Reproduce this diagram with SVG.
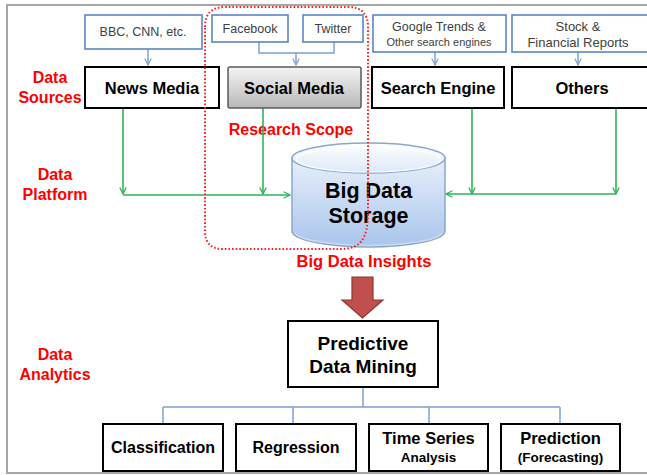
<svg xmlns="http://www.w3.org/2000/svg" width="647" height="475" viewBox="0 0 647 475">
<defs>
<style>
.sub{fill:#fff;stroke:#5b86c4;stroke-width:1.6}
.node{fill:#fff;stroke:#000;stroke-width:2}
.st{font-family:"Liberation Sans",Arial,sans-serif;font-size:12.5px;fill:#404040;text-anchor:middle}
.nt{font-family:"Liberation Sans",Arial,sans-serif;font-weight:bold;font-size:16.5px;fill:#000;text-anchor:middle}
.rt{font-family:"Liberation Sans",Arial,sans-serif;font-weight:bold;font-size:16px;fill:#ff0000;text-anchor:middle}
.g{fill:none;stroke:#2fb55a;stroke-width:1.6}
.b{fill:none;stroke:#7ea1d4;stroke-width:1.5}
</style>
<marker id="ga" viewBox="0 0 10 10" refX="9" refY="5" markerWidth="8" markerHeight="8" markerUnits="userSpaceOnUse" orient="auto">
<path d="M1,1 L9,5 L1,9" fill="none" stroke="#2fb55a" stroke-width="1.6"/>
</marker>
<marker id="ba" viewBox="0 0 10 10" refX="9" refY="5" markerWidth="8" markerHeight="8" markerUnits="userSpaceOnUse" orient="auto">
<path d="M1,1 L9,5 L1,9" fill="none" stroke="#7ea1d4" stroke-width="1.5"/>
</marker>
<linearGradient id="gray" x1="0" y1="0" x2="0" y2="1">
<stop offset="0" stop-color="#f4f4f4"/>
<stop offset="1" stop-color="#b8b8b8"/>
</linearGradient>
<linearGradient id="cyl" x1="0" y1="0" x2="0" y2="1">
<stop offset="0" stop-color="#e6effb"/>
<stop offset="1" stop-color="#a9c5ec"/>
</linearGradient>
<linearGradient id="cyltop" x1="0" y1="0" x2="0" y2="1">
<stop offset="0" stop-color="#ffffff"/>
<stop offset="1" stop-color="#dce8f8"/>
</linearGradient>
</defs>
<rect width="647" height="475" fill="#fff"/>
<rect x="7" y="5" width="660" height="468" fill="none" stroke="#a6a6a6" stroke-width="2"/>

<g id="labels">
<text class="rt" x="50" y="83">Data</text>
<text class="rt" x="50" y="103">Sources</text>
<text class="rt" x="55" y="180">Data</text>
<text class="rt" x="55" y="200">Platform</text>
<text class="rt" x="55" y="360">Data</text>
<text class="rt" x="55" y="380">Analytics</text>
<text class="rt" x="291" y="135">Research Scope</text>
<text class="rt" x="364" y="267" style="font-size:16.5px">Big Data Insights</text>
</g>

<g id="connectors">
<path class="b" d="M148,49 V65" marker-end="url(#ba)"/>
<path class="b" d="M259,42 V53 H334 V42"/>
<path class="b" d="M296,53 V65" marker-end="url(#ba)"/>
<path class="b" d="M435,52 V65" marker-end="url(#ba)"/>
<path class="b" d="M578,52 V65" marker-end="url(#ba)"/>
<path class="g" d="M123,108 V194" marker-end="url(#ga)"/>
<path class="g" d="M263,108 V194" marker-end="url(#ga)"/>
<path class="g" d="M123,195 H290" marker-end="url(#ga)"/>
<path class="g" d="M472,108 V194" marker-end="url(#ga)"/>
<path class="g" d="M616,108 V194" marker-end="url(#ga)"/>
<path class="g" d="M616,194 H446" marker-end="url(#ga)"/>
<path class="b" d="M363,387 V407 M163,407 H560 M163,407 V424 M293,407 V424 M429,407 V424 M560,407 V424"/>
</g>

<g id="bbc">
<rect class="sub" x="85" y="15" width="117" height="34"/>
<text class="st" x="143" y="36">BBC, CNN, etc.</text>
</g>
<g id="facebook">
<rect class="sub" x="212" y="15" width="76" height="27"/>
<text class="st" x="250" y="33">Facebook</text>
</g>
<g id="twitter">
<rect class="sub" x="303" y="15" width="60" height="27"/>
<text class="st" x="333" y="33">Twitter</text>
</g>
<g id="google">
<rect class="sub" x="373" y="15" width="133" height="37"/>
<text class="st" x="439" y="31">Google Trends &amp;</text>
<text class="st" x="439" y="46" style="font-size:11px">Other search engines</text>
</g>
<g id="stock">
<rect class="sub" x="512" y="15" width="140" height="37"/>
<text class="st" x="578" y="31" style="font-size:13px">Stock &amp;</text>
<text class="st" x="578" y="47" style="font-size:13px">Financial Reports</text>
</g>

<g id="news-media">
<rect class="node" x="85" y="67" width="134" height="41"/>
<text class="nt" x="152" y="94">News Media</text>
</g>
<g id="social-media">
<rect x="228" y="67" width="133" height="41" rx="2" fill="url(#gray)" stroke="#5a5a5a" stroke-width="1.5"/>
<text class="nt" x="294" y="94">Social Media</text>
</g>
<g id="search-engine">
<rect class="node" x="372" y="67" width="132" height="41"/>
<text class="nt" x="438" y="94">Search Engine</text>
</g>
<g id="others">
<rect class="node" x="512" y="67" width="140" height="41"/>
<text class="nt" x="582" y="94">Others</text>
</g>

<g id="big-data-storage">
<path d="M292,158 V231 A76.5,16 0 0 0 445,231 V158 Z" fill="url(#cyl)" stroke="#8ba6cc" stroke-width="1.5"/>
<path d="M295,233 A74,14 0 0 0 442,233" fill="none" stroke="#c9d9ef" stroke-width="1.5"/>
<ellipse cx="368.5" cy="158" rx="76.5" ry="15" fill="url(#cyltop)" stroke="#8ba6cc" stroke-width="1.5"/>
<ellipse cx="368.5" cy="159.5" rx="72" ry="12.5" fill="none" stroke="#ffffff" stroke-width="1.2"/>
<text class="nt" x="368.5" y="198" style="font-size:21.5px">Big Data</text>
<text class="nt" x="368.5" y="223" style="font-size:21.5px">Storage</text>
</g>

<g id="research-scope">
<path d="M205,27 Q205,7 225,7 H348 Q368,7 368,27 V212 C368,240 360,249 340,249 H223 Q205,249 205,231 Z" fill="none" stroke="#ff2020" stroke-width="2" stroke-dasharray="1.6 2"/>
</g>

<g id="insight-arrow">
<path d="M352,277 H373 V300 H383 L362.5,318 L342,300 H352 Z" fill="#c0504d" stroke="#8c3836" stroke-width="1.2"/>
</g>

<g id="predictive-data-mining">
<rect class="node" x="288" y="321" width="150" height="66"/>
<text class="nt" x="363" y="350" style="font-size:19px">Predictive</text>
<text class="nt" x="363" y="373" style="font-size:19px">Data Mining</text>
</g>

<g id="classification">
<rect class="node" x="103" y="424" width="120" height="47"/>
<text class="nt" x="163" y="453" style="font-size:16px">Classification</text>
</g>
<g id="regression">
<rect class="node" x="236" y="424" width="120" height="47"/>
<text class="nt" x="296" y="453" style="font-size:16px">Regression</text>
</g>
<g id="time-series">
<rect class="node" x="369" y="424" width="119" height="47"/>
<text class="nt" x="428.5" y="444">Time Series</text>
<text class="nt" x="428.5" y="462" style="font-size:13.5px">Analysis</text>
</g>
<g id="prediction">
<rect class="node" x="501" y="424" width="119" height="47"/>
<text class="nt" x="560.5" y="444">Prediction</text>
<text class="nt" x="560.5" y="462" style="font-size:13.5px">(Forecasting)</text>
</g>
</svg>
